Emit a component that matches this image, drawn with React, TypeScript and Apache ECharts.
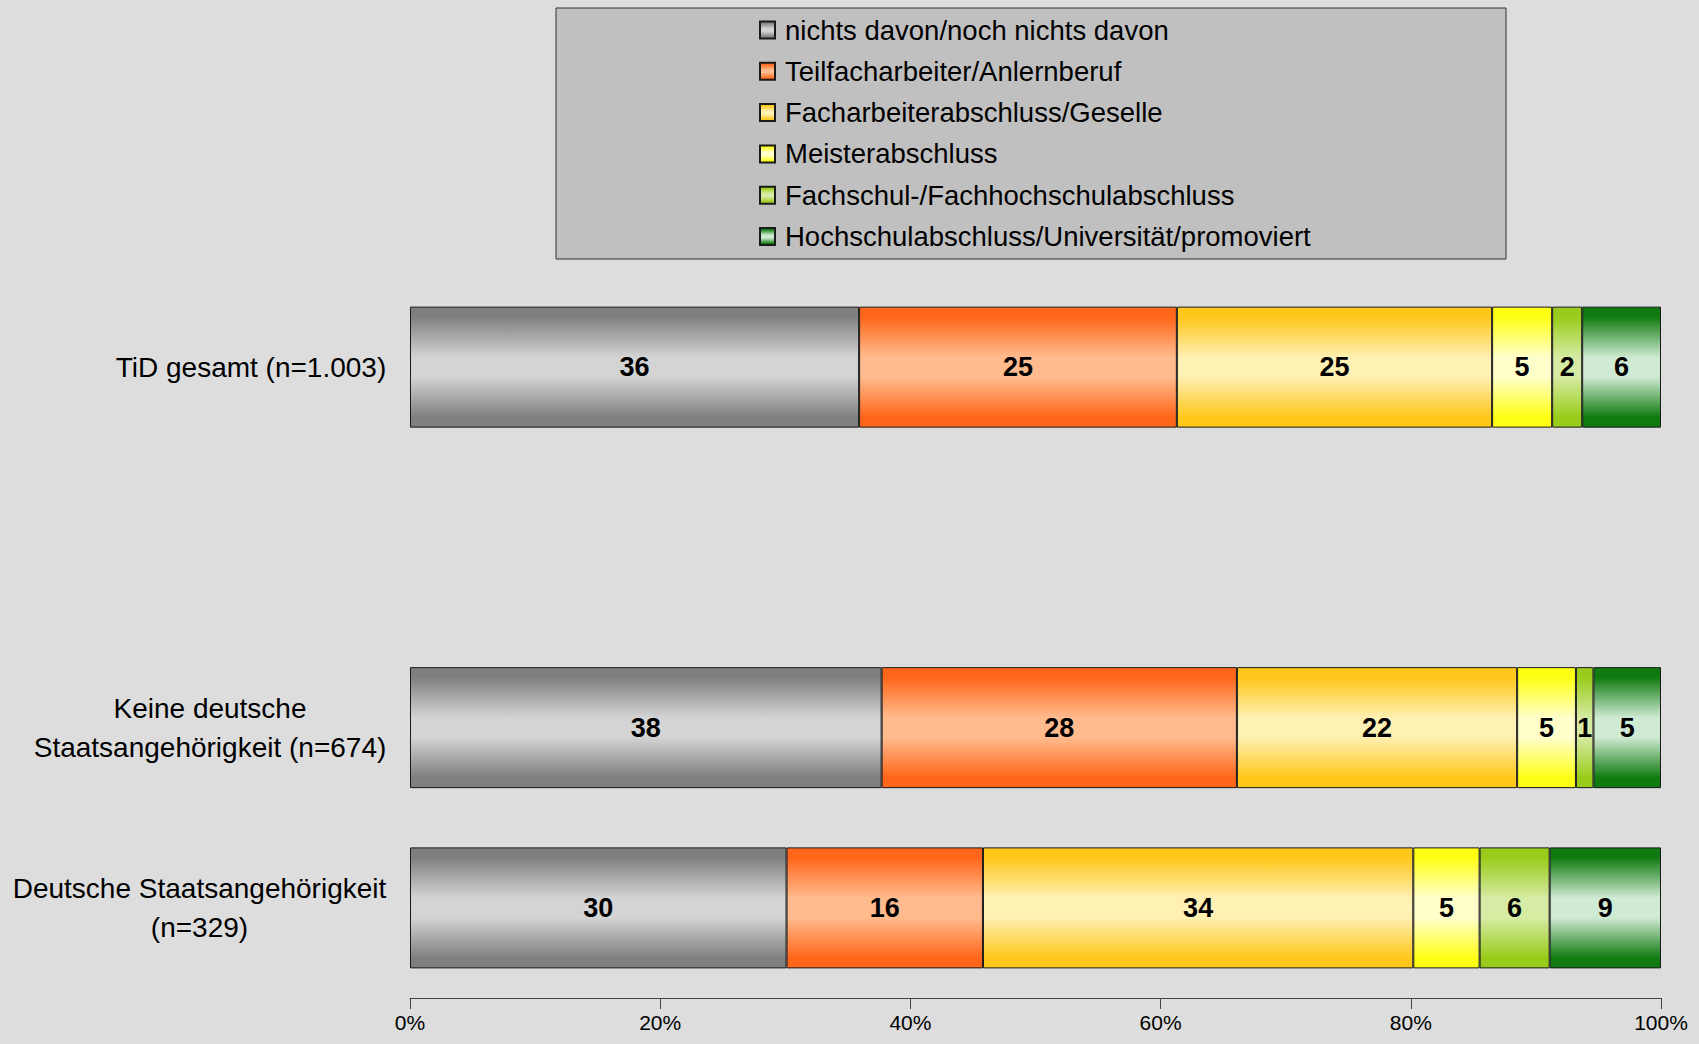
import React, { useEffect, useRef } from 'react';
import * as echarts from 'echarts';

const categories = [
  'TiD gesamt (n=1.003)',
  '',
  'Keine deutsche\nStaatsangehörigkeit (n=674)',
  'Deutsche Staatsangehörigkeit\n(n=329)',
];

const seriesNames = [
  'nichts davon/noch nichts davon',
  'Teilfacharbeiter/Anlernberuf',
  'Facharbeiterabschluss/Geselle',
  'Meisterabschluss',
  'Fachschul-/Fachhochschulabschluss',
  'Hochschulabschluss/Universität/promoviert',
];

const nichtsDavon = [35.9, null, 37.7, 30.1];
const teilfacharbeiter = [25.4, null, 28.4, 15.7];
const facharbeiter = [25.2, null, 22.4, 34.4];
const meister = [4.8, null, 4.7, 5.3];
const fachschul = [2.4, null, 1.4, 5.6];
const hochschul = [6.3, null, 5.4, 8.9];

const seriesValues = [nichtsDavon, teilfacharbeiter, facharbeiter, meister, fachschul, hochschul];

const xMin = 0;
const xMax = 100;
const xInterval = 20;

const edgeColors = ['#7f7f7f', '#ff6619', '#ffc71a', '#ffff14', '#99cc1a', '#0f7a0f'];
const midColors = ['#d4d4d4', '#ffbb8e', '#fff0b3', '#ffffcc', '#d6eba3', '#d0ebd3'];

const FONT = '"Liberation Sans", Arial, sans-serif';
const CAT_FONT_SIZE = 28;

function grad(edge: string, mid: string) {
  return new echarts.graphic.LinearGradient(0, 0, 0, 1, [
    { offset: 0, color: edge },
    { offset: 0.08, color: edge },
    { offset: 0.42, color: mid },
    { offset: 0.58, color: mid },
    { offset: 0.92, color: edge },
    { offset: 1, color: edge },
  ]);
}

export default function App() {
  const ref = useRef<HTMLDivElement>(null);
  useEffect(() => {
    if (!ref.current) return;
    const chart = echarts.init(ref.current, null, { renderer: 'svg' });

    const canvas = document.createElement('canvas');
    const ctx = canvas.getContext('2d')!;
    ctx.font = `${CAT_FONT_SIZE}px ${FONT}`;
    const rich: Record<string, any> = {};
    categories.forEach((c, i) => {
      const lines = c.split('\n');
      const w = Math.max(1, ...lines.map((l) => ctx.measureText(l).width));
      rich['c' + i] = {
        width: Math.ceil(w) + 1,
        align: 'center',
        fontSize: CAT_FONT_SIZE,
        lineHeight: 39,
        fontFamily: FONT,
        color: '#000',
      };
    });

    const series = seriesNames.map((name, si) => ({
      name,
      type: 'bar',
      stack: 'total',
      barWidth: 121,
      data: seriesValues[si].map((v) => (v === null ? '-' : v)),
      itemStyle: {
        color: grad(edgeColors[si], midColors[si]),
        borderColor: '#1a1a1a',
        borderWidth: 1,
      },
      label: {
        show: true,
        position: 'inside',
        formatter: (p: any) => String(Math.round(p.value)),
        fontWeight: 'bold',
        fontSize: 27,
        fontFamily: FONT,
        color: '#000',
      },
    }));

    chart.setOption({
      animation: false,
      backgroundColor: '#dddddd',
      textStyle: { fontFamily: FONT },
      graphic: [
        {
          type: 'rect',
          z: 0,
          shape: { x: 556, y: 8, width: 950, height: 251 },
          style: { fill: '#c0c0c0', stroke: '#333', lineWidth: 1 },
        },
      ],
      legend: {
        data: seriesNames,
        orient: 'vertical',
        left: 759,
        top: 16,
        padding: 0,
        itemWidth: 15,
        itemHeight: 17,
        itemGap: 13.3,
        icon: 'rect',
        textStyle: {
          fontSize: 27.5,
          lineHeight: 27,
          color: '#000',
          fontFamily: FONT,
          padding: [0, 0, 0, 5],
        },
      },
      grid: { left: 410, right: 38, top: 277, bottom: 46, containLabel: false },
      xAxis: {
        type: 'value',
        min: xMin,
        max: xMax,
        interval: xInterval,
        axisLine: { show: true, lineStyle: { color: '#444', width: 1 } },
        axisTick: { show: true, length: 11, lineStyle: { color: '#444' } },
        axisLabel: { formatter: '{value}%', fontSize: 21, color: '#000', margin: 14, fontFamily: FONT },
        splitLine: { show: false },
      },
      yAxis: {
        type: 'category',
        data: categories,
        inverse: true,
        axisLine: { show: false },
        axisTick: { show: false },
        axisLabel: {
          margin: 23,
          fontSize: CAT_FONT_SIZE,
          lineHeight: 39,
          color: '#000',
          fontFamily: FONT,
          formatter: (value: string, index: number) =>
            value === '' ? '' : value.split('\n').map((l) => `{c${index}|${l}}`).join('\n'),
          rich,
        },
      },
      series,
    });
    return () => chart.dispose();
  }, []);
  return (
    <div
      ref={ref}
      style={{ position: 'fixed', left: 0, top: 0, width: 1699, height: 1044 }}
    />
  );
}
